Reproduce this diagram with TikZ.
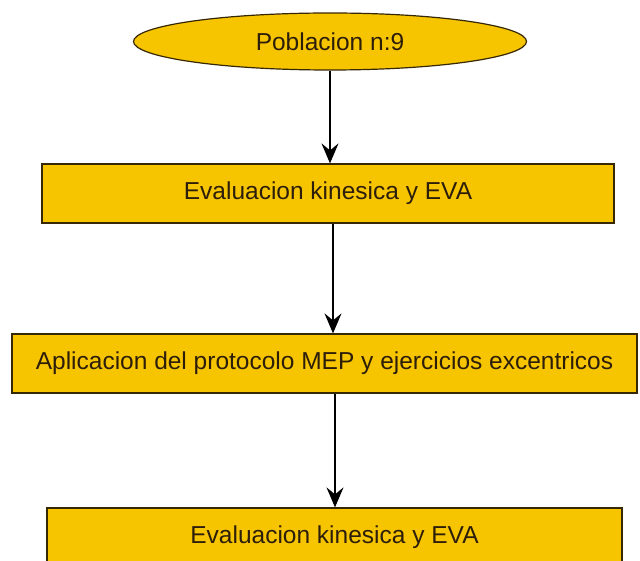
\documentclass[tikz,border=0pt]{standalone}
\usepackage{fontspec}
\setmainfont{Liberation Sans}
\usetikzlibrary{shapes.geometric,arrows.meta}

\definecolor{oro}{RGB}{247,197,0}
\definecolor{borde}{RGB}{55,40,5}
\definecolor{letra}{RGB}{45,30,10}

\tikzset{
  paso/.style={draw=borde, line width=1.2pt, fill=oro, text=letra, rectangle,
    minimum height=59pt, inner sep=0pt, font=\fontsize{24.5}{28}\selectfont},
  inicio/.style={draw=borde, line width=1.2pt, fill=oro, text=letra, ellipse,
    minimum width=393pt, minimum height=57pt, inner sep=0pt, font=\fontsize{24.5}{28}\selectfont},
  flecha/.style={-{Stealth[length=20pt,width=17pt,inset=7pt]}, line width=1.4pt, draw=black}
}

\begin{document}
\begin{tikzpicture}[x=1pt, y=1pt]
\useasboundingbox[fill=white] (0,0) rectangle (640,560);
% nodos
\node[inicio] (pob) at (330,518.5) {Poblacion n:9};
\node[paso, minimum width=572pt] (eva1) at (328,366.5) {Evaluacion kinesica y EVA};
\node[paso, minimum width=625pt] (mep) at (324.5,196.5) {Aplicacion del protocolo MEP y ejercicios excentricos};
\node[paso, minimum width=575pt] (eva2) at (334.5,22.5) {Evaluacion kinesica y EVA};
% flechas
\draw[flecha] (pob.south) -- (pob.south |- eva1.north);
\draw[flecha] ([xshift=5pt]eva1.south) -- ([xshift=5pt]eva1.south |- mep.north);
\draw[flecha] ([xshift=0.5pt]eva2.north |- mep.south) -- ([xshift=0.5pt]eva2.north);
\end{tikzpicture}
\end{document}
